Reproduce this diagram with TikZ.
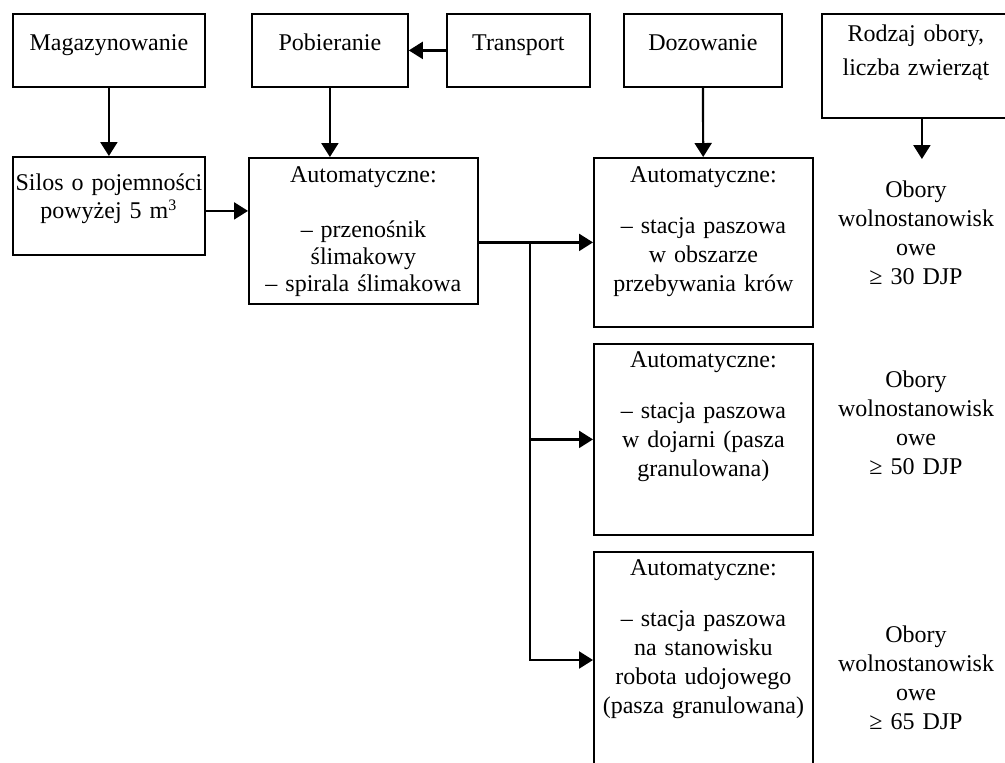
\documentclass[tikz,border=0pt]{standalone}
\usepackage{fontspec}
\setmainfont{Liberation Serif}
\usetikzlibrary{arrows.meta}

\begin{document}
\begin{tikzpicture}[x=0.5pt, y=-0.5pt,
    blok/.style={draw, line width=0.9pt, anchor=north west, inner sep=0pt, align=center,
                 font=\fontsize{12}{14.5}\selectfont},
    opis/.style={anchor=north, inner sep=0pt, align=center, text width=84pt, text height=19pt,
                 font=\fontsize{12}{14.5}\selectfont},
    strzalka/.style={line width=1.1pt, -{Triangle[length=7pt, width=8.5pt]}}]
    \useasboundingbox (0,0) rectangle (1005,762);
    % gorny rzad
    \node[blok, text width=96pt, text height=18.5pt, text depth=18pt] (mag) at (12,13) {Magazynowanie};
    \node[blok, text width=78pt, text height=18.5pt, text depth=18pt] (pob) at (251,13) {Pobieranie};
    \node[blok, text width=71.5pt, text height=18.5pt, text depth=18pt] (transp) at (446,13) {Transport};
    \node[blok, text width=79pt, text height=18.5pt, text depth=18pt] (doz) at (623,13) {Dozowanie};
    \node[blok, text width=94pt, text height=14pt, text depth=38pt] (rodzaj) at (821,13) {Rodzaj obory,\\[2.5pt] liczba zwierząt};
    % drugi rzad
    \node[blok, text width=96pt, text height=17pt, text depth=32pt] (silos) at (12,156) {Silos o pojemności\\[-0.5pt] powyżej 5 m\textsuperscript{3}};
    \node[blok, text width=114.5pt, text height=12.5pt, text depth=60.5pt] (auto0) at (248,157) {Automatyczne:\\[13pt] – przenośnik\\[-1pt] ślimakowy\\[-1pt] – spirala ślimakowa};
    \node[blok, text width=109.5pt, text height=12.5pt, text depth=72pt] (auto1) at (593,157) {Automatyczne:\\[11pt] – stacja paszowa\\ w obszarze\\ przebywania krów};
    \node[blok, text width=109.5pt, text height=12pt, text depth=83.5pt] (auto2) at (593,343) {Automatyczne:\\[11pt] – stacja paszowa\\ w dojarni (pasza\\ granulowana)};
    \node[blok, text width=109.5pt, text height=12pt, text depth=103pt] (auto3) at (593,551) {Automatyczne:\\[11pt] – stacja paszowa\\ na stanowisku\\ robota udojowego\\ (pasza granulowana)};
    % obory
    \node[opis] (obory1) at (916,159) {Obory\\ wolnostanowisk\\ owe\\ ≥ 30 DJP};
    \node[opis] (obory2) at (916,349) {Obory\\ wolnostanowisk\\ owe\\ ≥ 50 DJP};
    \node[opis] (obory3) at (916,604) {Obory\\ wolnostanowisk\\ owe\\ ≥ 65 DJP};
    % polaczenia
    \coordinate (rozg) at (530,241.5);
    \coordinate (wej3) at ([yshift=-54.5pt]auto3.north west);
    \draw[strzalka] (transp.west) -- (pob.east);
    \draw[strzalka] (mag) -- (silos);
    \draw[strzalka] (pob.south) -- (pob.south |- auto0.north);
    \draw[strzalka] (doz) -- (auto1);
    \draw[strzalka] ([xshift=3pt]rodzaj.south) -- ([xshift=3pt]rodzaj.south |- obory1.north);
    \draw[strzalka] ([yshift=-2.5pt]silos.east) -- ([yshift=-2.5pt]silos.east -| auto0.west);
    \draw[strzalka] (auto0.east |- auto1.west) -- (auto1.west);
    \draw[strzalka] (rozg |- auto2.west) -- (auto2.west);
    \draw[strzalka] (rozg) |- (wej3);
\end{tikzpicture}
\end{document}
